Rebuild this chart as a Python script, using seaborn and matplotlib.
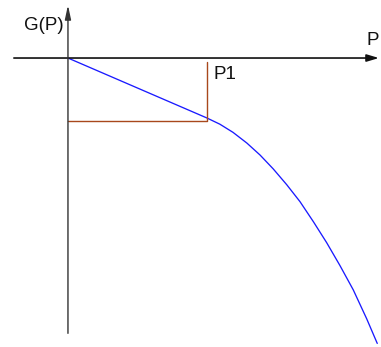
"""Sketch of G(P): linear up to P1, then bending down."""

import matplotlib
matplotlib.use("Agg")
import matplotlib.pyplot as plt
import pandas as pd
import seaborn as sns


# curve G(P), P1 = 1
curve_p = [0.0, 1.0, 1.095, 1.19, 1.29, 1.385, 1.48, 1.577, 1.673,
           1.77, 1.865, 1.96, 2.057, 2.154, 2.23]
curve_g = [0.0, -0.95, -1.05, -1.18, -1.35, -1.54, -1.76, -2.01, -2.28,
           -2.60, -2.93, -3.29, -3.68, -4.14, -4.53]

# guide lines marking P1
p1 = 1.0
g_at_p1 = -1.0
guide_top = -0.06

axis_labels = ["G(P)", "P", "P1"]

BLUE = "#1a1aff"
BROWN = "#a8481c"
INK = "#111111"


sns.set_theme(style="white")
plt.rcParams["font.family"] = ["Liberation Sans Narrow", "Liberation Sans", "DejaVu Sans"]

fig = plt.figure(figsize=(3.81, 3.47), dpi=100)
ax = fig.add_axes([0, 0, 1, 1])
ax.set_xlim(-0.490, 2.257)
ax.set_ylim(-4.587, 0.921)
ax.axis("off")

# axes with arrow heads
arrow = dict(arrowstyle="-|>,head_length=0.6,head_width=0.18",
             color=INK, lw=1.2, mutation_scale=12, shrinkA=0, shrinkB=0)
ax.annotate("", xy=(2.242, 0.0), xytext=(-0.39, 0.0), arrowprops=arrow)
ax.annotate("", xy=(0.0, 0.84), xytext=(0.0, -4.37),
            arrowprops={**arrow, "color": "#333333", "lw": 1.0,
                        "arrowstyle": "-|>,head_length=0.7,head_width=0.15"})

curve = pd.DataFrame({"P": curve_p, "G": curve_g})
sns.lineplot(data=curve, x="P", y="G", ax=ax, color=BLUE, lw=0.95,
             sort=False, estimator=None)

guides = pd.DataFrame({
    "P": [0.0, p1, p1],
    "G": [g_at_p1, g_at_p1, guide_top],
})
sns.lineplot(data=guides, x="P", y="G", ax=ax, color=BROWN, lw=1.0,
             sort=False, estimator=None)

ax.text(-0.317, 0.444, axis_labels[0], fontsize=13.5, color=INK,
        ha="left", va="baseline")
ax.text(2.15, 0.206, axis_labels[1], fontsize=13.5, color=INK,
        ha="left", va="baseline")
ax.text(1.046, -0.333, axis_labels[2], fontsize=13.5, color=INK,
        ha="left", va="baseline")

fig.savefig("out.png", dpi=100)
plt.close(fig)
